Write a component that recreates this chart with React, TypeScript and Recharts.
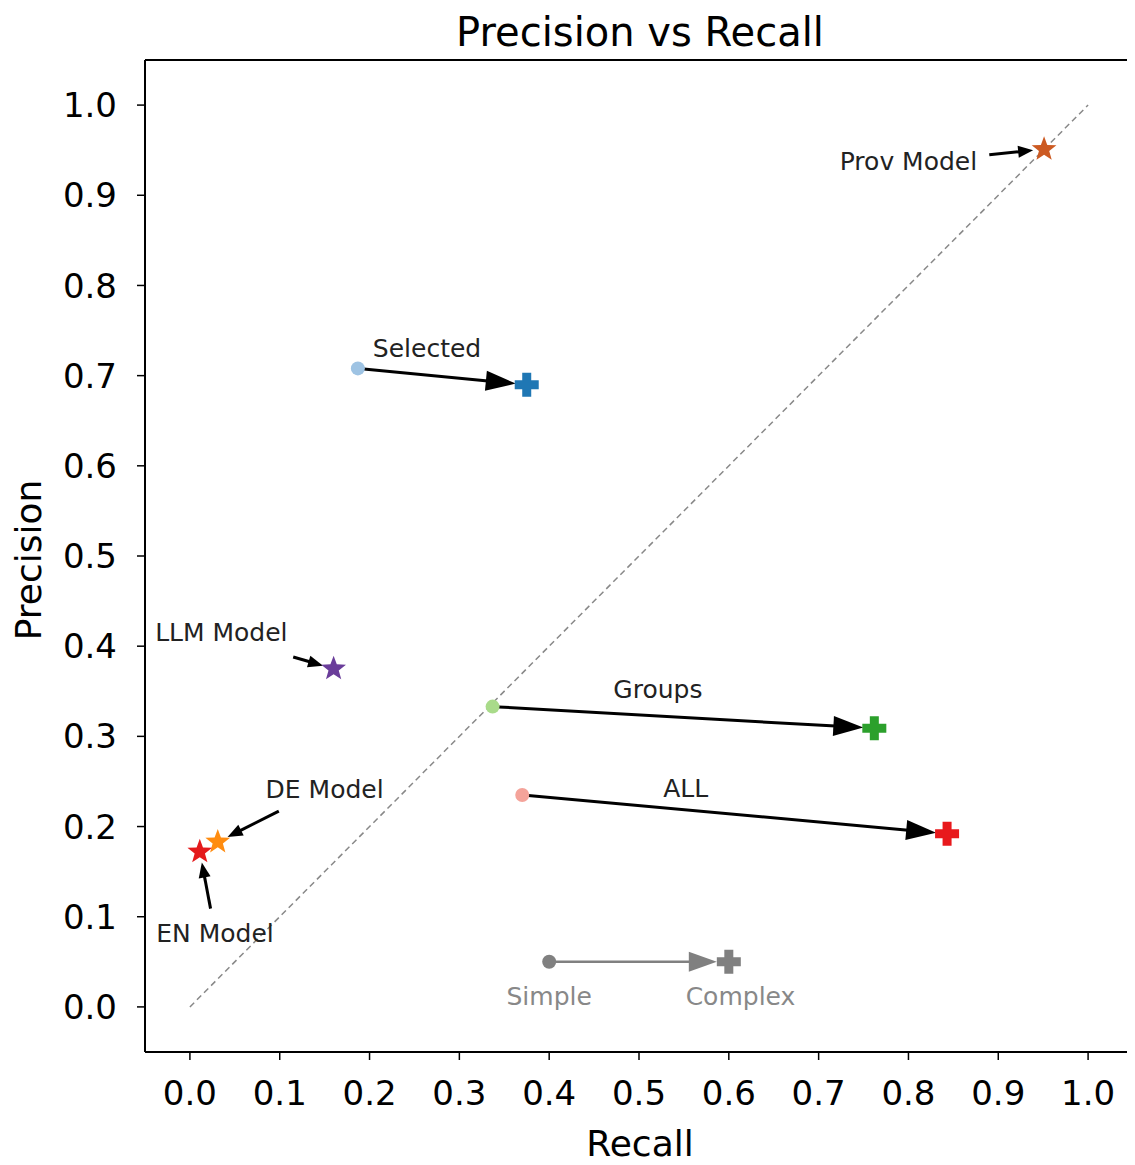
import {
  ScatterChart,
  Scatter,
  XAxis,
  YAxis,
  ReferenceLine,
  Customized,
} from 'recharts';

// experiment groups: simple -> complex
const groupNames = ['Selected', 'Groups', 'ALL'];
const simpleRecall = [0.187, 0.337, 0.37];
const simplePrecision = [0.708, 0.333, 0.235];
const complexRecall = [0.375, 0.762, 0.843];
const complexPrecision = [0.69, 0.309, 0.192];
const groupLabelX = [0.264, 0.521, 0.552];
const groupLabelY = [0.73, 0.352, 0.2425];

// single models (stars)
const modelNames = ['Prov Model', 'LLM Model', 'DE Model', 'EN Model'];
const modelRecall = [0.951, 0.16, 0.031, 0.011];
const modelPrecision = [0.951, 0.375, 0.183, 0.172];
const modelLabelX = [0.8, 0.035, 0.15, 0.028];
const modelLabelY = [0.937, 0.415, 0.241, 0.081];
const modelArrowX = [0.89, 0.115, 0.099, 0.023];
const modelArrowY = [0.945, 0.388, 0.217, 0.109];

// key at the bottom
const keyNames = ['Simple', 'Complex'];
const keyRecall = [0.4, 0.6];
const keyPrecision = [0.05, 0.05];
const keyLabelX = [0.4, 0.613];
const keyLabelY = [0.011, 0.011];

const ticks = [0, 0.1, 0.2, 0.3, 0.4, 0.5, 0.6, 0.7, 0.8, 0.9, 1.0];

const simpleColors = ['#9ec3e3', '#a9db8a', '#f4a39a'];
const complexColors = ['#1f77b4', '#2ca02c', '#e8191c'];
const modelColors = ['#cc5a22', '#6a3d9a', '#ff8c10', '#e41a1c'];
const FONT = '"DejaVu Sans", sans-serif';

const Circle = (r: number) => (p: any) => (
  <circle cx={p.cx} cy={p.cy} r={r} fill={p.fill} />
);

const Plus = (p: any) => {
  const a = 12;
  const t = 4.5;
  const d = `M${p.cx - t},${p.cy - a} h${2 * t} v${a - t} h${a - t} v${2 * t} h${-(a - t)} v${a - t} h${-2 * t} v${-(a - t)} h${-(a - t)} v${-2 * t} h${a - t} Z`;
  return <path d={d} fill={p.fill} />;
};

const Star = (p: any) => {
  const R = 13;
  const r = 5.4;
  const pts: string[] = [];
  for (let i = 0; i < 10; i++) {
    const rad = i % 2 === 0 ? R : r;
    const ang = -Math.PI / 2 + (i * Math.PI) / 5;
    pts.push(`${p.cx + rad * Math.cos(ang)},${p.cy + rad * Math.sin(ang)}`);
  }
  return <polygon points={pts.join(' ')} fill={p.fill} />;
};

const TextShape = (size: number, color: string) => (p: any) => (
  <text
    x={p.cx}
    y={p.cy}
    textAnchor="middle"
    dominantBaseline="central"
    fontSize={size}
    fontFamily={FONT}
    fill={color}
  >
    {p.payload.text}
  </text>
);

const arrow =
  (color: string, width: number, shrinkA: number, shrinkB: number, headLen: number, headW: number) =>
  (props: any) => {
    const { x1, y1, x2, y2 } = props;
    const dx = x2 - x1;
    const dy = y2 - y1;
    const len = Math.hypot(dx, dy) || 1;
    const ux = dx / len;
    const uy = dy / len;
    const sx = x1 + ux * shrinkA;
    const sy = y1 + uy * shrinkA;
    const tx = x2 - ux * shrinkB;
    const ty = y2 - uy * shrinkB;
    const bx = tx - ux * headLen;
    const by = ty - uy * headLen;
    const px = -uy * headW / 2;
    const py = ux * headW / 2;
    return (
      <g>
        <line x1={sx} y1={sy} x2={bx + ux * 2} y2={by + uy * 2} stroke={color} strokeWidth={width} />
        <polygon points={`${tx},${ty} ${bx + px},${by + py} ${bx - px},${by - py}`} fill={color} />
      </g>
    );
  };

const bigArrow = arrow('#000', 3, 6, 11, 30, 20);
const smallArrow = arrow('#000', 3, 0, 11, 15, 12);
const keyArrow = arrow('#808080', 2.5, 0, 12, 28, 20);

const Titles = () => (
  <g fontFamily={FONT}>
    <text x={632} y={38} textAnchor="middle" fontSize={40} fill="#000">
      Precision vs Recall
    </text>
    <text
      x={20}
      y={552}
      textAnchor="middle"
      dominantBaseline="central"
      fontSize={36}
      fill="#000"
      transform="rotate(-90 20 552)"
    >
      Precision
    </text>
    <text x={632} y={1135} textAnchor="middle" dominantBaseline="central" fontSize={36} fill="#000">
      Recall
    </text>
  </g>
);

const App = () => {
  const groupLabels = groupNames.map((n, i) => ({ x: groupLabelX[i], y: groupLabelY[i], text: n }));
  const modelLabels = modelNames.map((n, i) => ({ x: modelLabelX[i], y: modelLabelY[i], text: n }));
  const keyLabels = keyNames.map((n, i) => ({ x: keyLabelX[i], y: keyLabelY[i], text: n }));
  const tick = { fontSize: 34, fontFamily: FONT, fill: '#000' };

  return (
    <ScatterChart
      width={1127}
      height={1157}
      margin={{ top: 52, right: 2, left: 57, bottom: 53 }}
    >
      <XAxis
        type="number"
        dataKey="x"
        domain={[-0.05, 1.05]}
        ticks={ticks}
        tickFormatter={(v: number) => v.toFixed(1)}
        allowDataOverflow
        height={60}
        tick={tick}
        tickSize={8}
        tickMargin={21}
        stroke="#000"
        axisLine={{ stroke: '#000', strokeWidth: 2 }}
        tickLine={{ stroke: '#000', strokeWidth: 1.5 }}
      />
      <YAxis
        type="number"
        dataKey="y"
        domain={[-0.05, 1.05]}
        ticks={ticks}
        tickFormatter={(v: number) => v.toFixed(1)}
        allowDataOverflow
        width={80}
        tick={tick}
        tickSize={8}
        tickMargin={20}
        stroke="#000"
        axisLine={{ stroke: '#000', strokeWidth: 2 }}
        tickLine={{ stroke: '#000', strokeWidth: 1.5 }}
      />
      <ReferenceLine y={1.05} stroke="#000" strokeWidth={2} />
      <ReferenceLine x={1.05} stroke="#000" strokeWidth={2} />
      <ReferenceLine
        segment={[{ x: 0, y: 0 }, { x: 1, y: 1 }]}
        stroke="#888"
        strokeWidth={1.5}
        strokeDasharray="6 4"
      />

      {groupNames.map((n, i) => (
        <ReferenceLine
          key={`ga-${n}`}
          segment={[
            { x: simpleRecall[i], y: simplePrecision[i] },
            { x: complexRecall[i], y: complexPrecision[i] },
          ]}
          shape={bigArrow}
        />
      ))}
      {modelNames.map((n, i) => (
        <ReferenceLine
          key={`ma-${n}`}
          segment={[
            { x: modelArrowX[i], y: modelArrowY[i] },
            { x: modelRecall[i], y: modelPrecision[i] },
          ]}
          shape={smallArrow}
        />
      ))}
      <ReferenceLine
        segment={[
          { x: keyRecall[0], y: keyPrecision[0] },
          { x: keyRecall[1], y: keyPrecision[1] },
        ]}
        shape={keyArrow}
      />

      {groupNames.map((n, i) => (
        <Scatter
          key={`s-${n}`}
          data={[{ x: simpleRecall[i], y: simplePrecision[i] }]}
          fill={simpleColors[i]}
          shape={Circle(7)}
          isAnimationActive={false}
        />
      ))}
      {groupNames.map((n, i) => (
        <Scatter
          key={`c-${n}`}
          data={[{ x: complexRecall[i], y: complexPrecision[i] }]}
          fill={complexColors[i]}
          shape={Plus}
          isAnimationActive={false}
        />
      ))}
      {modelNames.map((n, i) => (
        <Scatter
          key={`m-${n}`}
          data={[{ x: modelRecall[i], y: modelPrecision[i] }]}
          fill={modelColors[i]}
          shape={Star}
          isAnimationActive={false}
        />
      ))}
      <Scatter
        data={[{ x: keyRecall[0], y: keyPrecision[0] }]}
        fill="#808080"
        shape={Circle(7)}
        isAnimationActive={false}
      />
      <Scatter
        data={[{ x: keyRecall[1], y: keyPrecision[1] }]}
        fill="#808080"
        shape={Plus}
        isAnimationActive={false}
      />

      <Scatter data={groupLabels} shape={TextShape(25, '#222')} isAnimationActive={false} />
      <Scatter data={modelLabels} shape={TextShape(25, '#222')} isAnimationActive={false} />
      <Scatter data={keyLabels} shape={TextShape(25, '#888')} isAnimationActive={false} />

      <Customized component={<Titles />} />
    </ScatterChart>
  );
};

export default App;
